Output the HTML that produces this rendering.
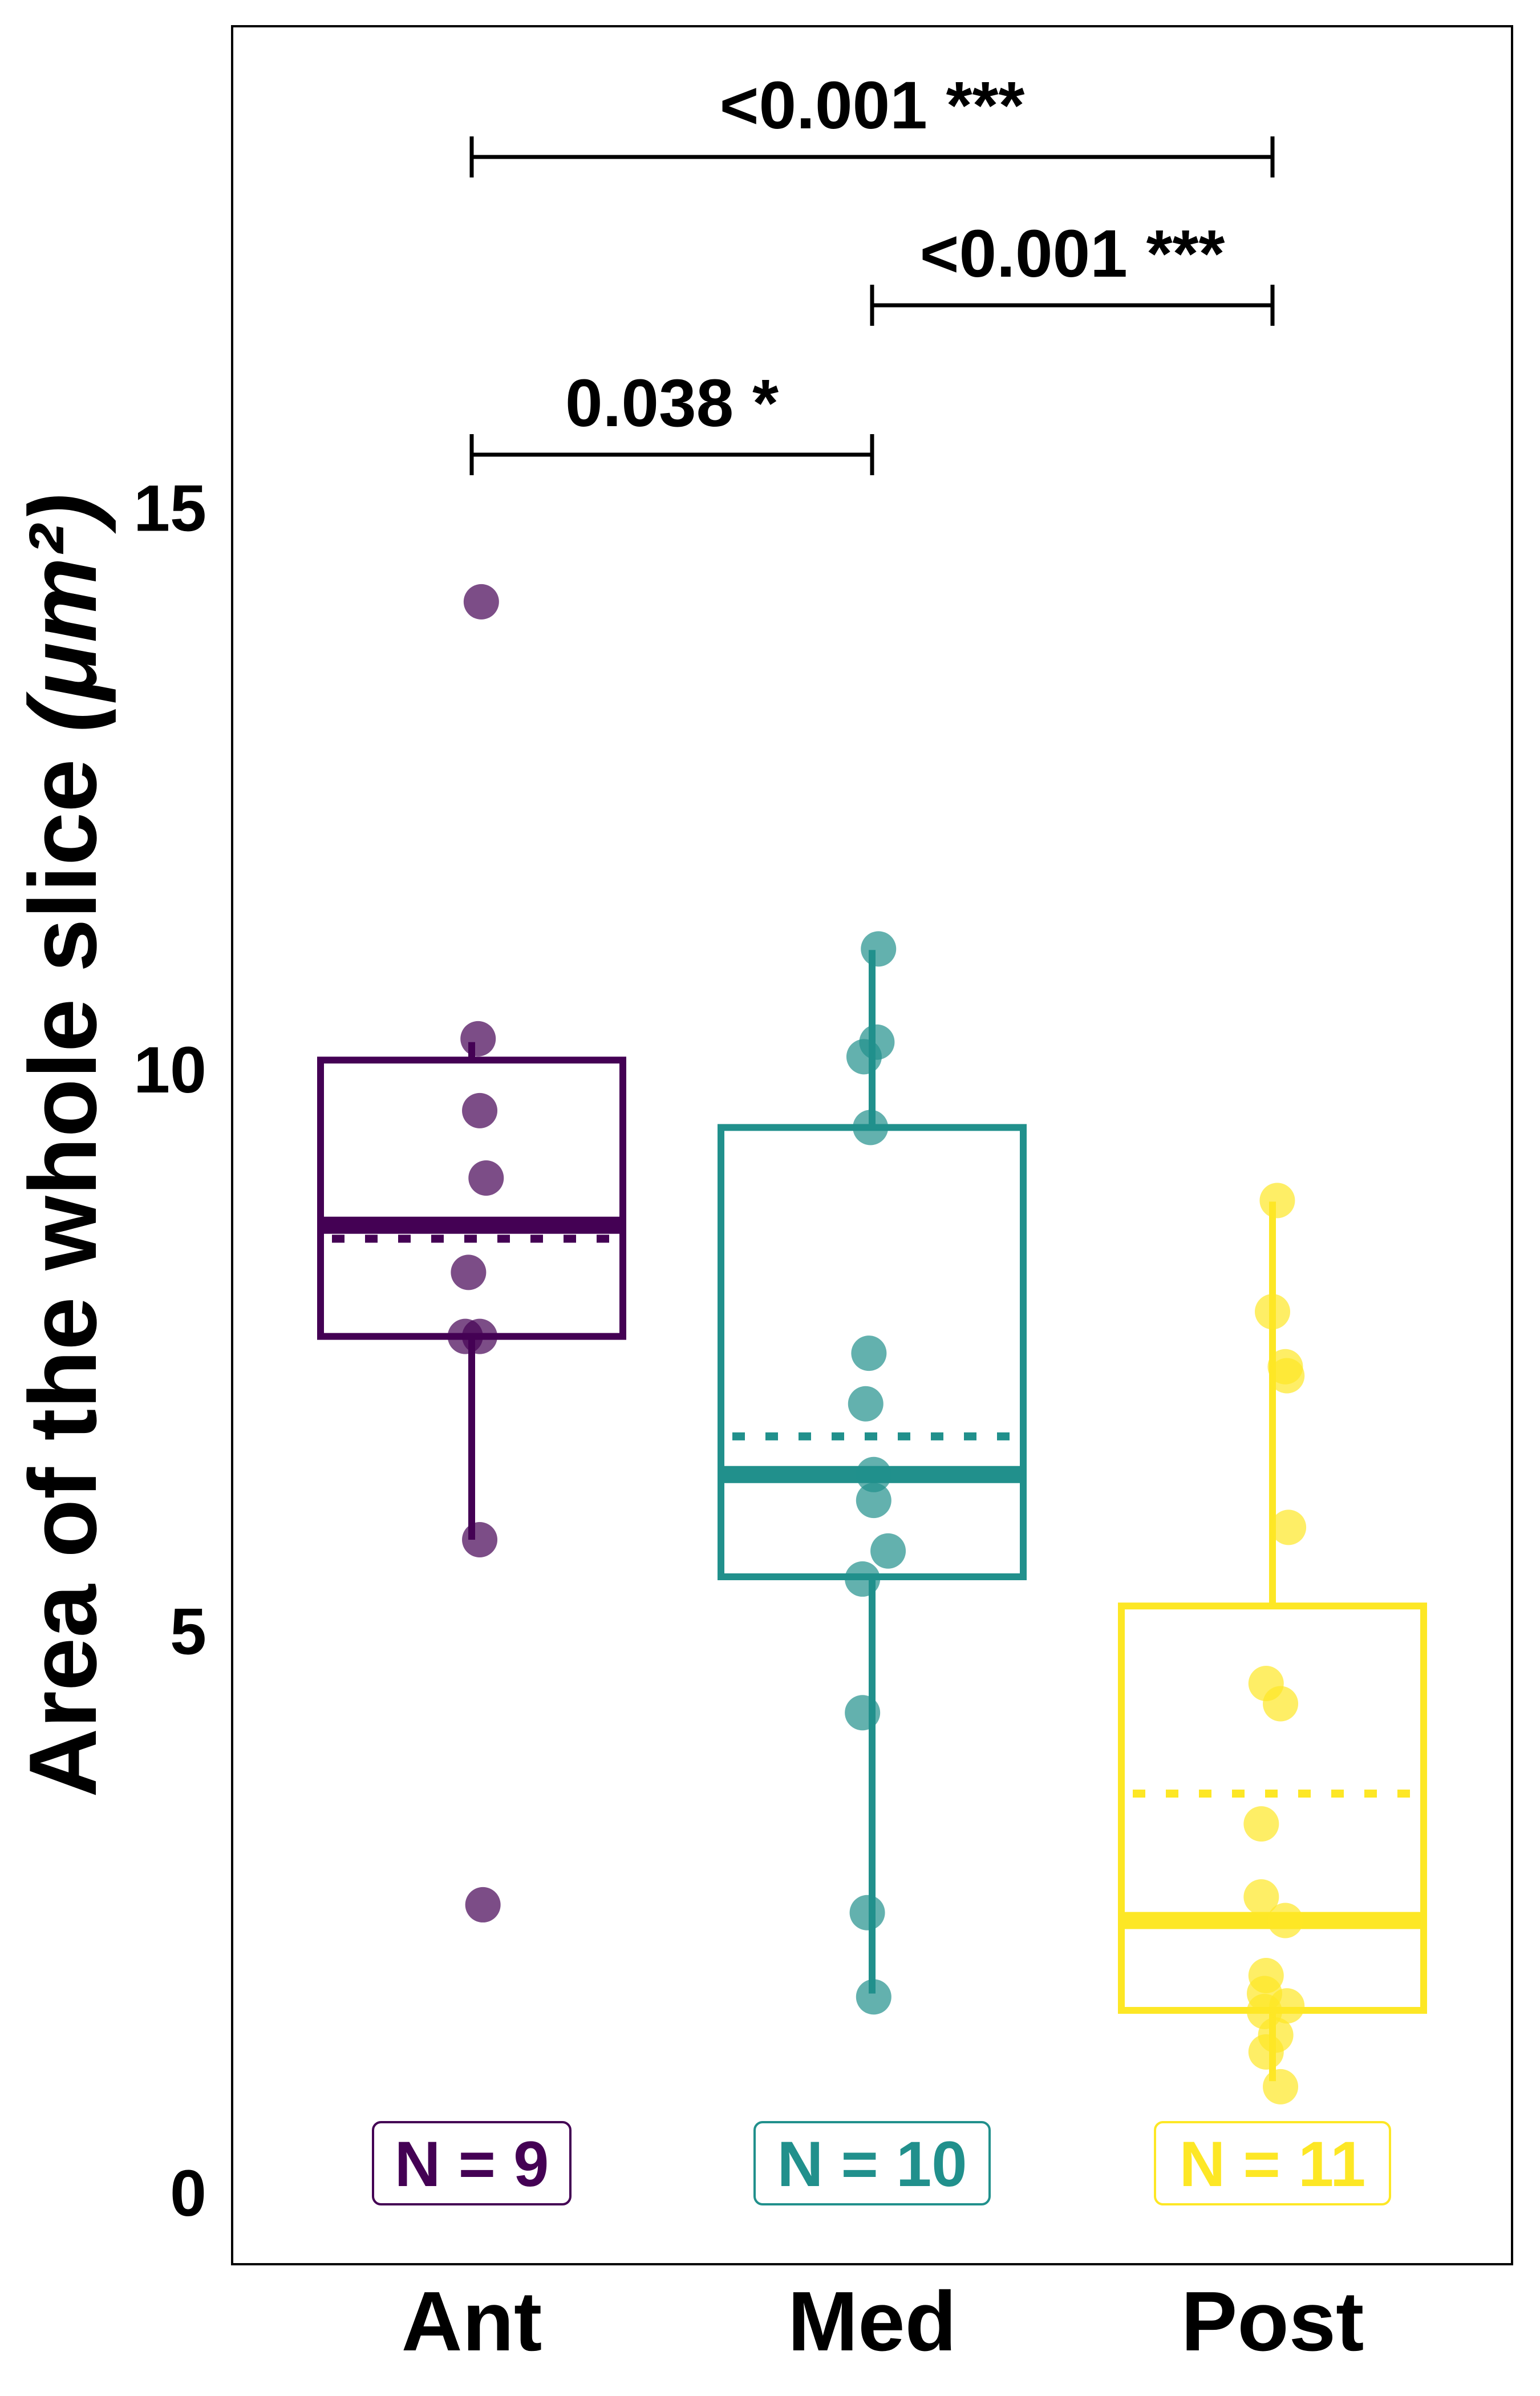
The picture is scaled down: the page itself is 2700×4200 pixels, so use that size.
<!DOCTYPE html>
<html><head><meta charset="utf-8"><style>
html,body{margin:0;padding:0;background:#fff;width:2700px;height:4200px;overflow:hidden}
svg{display:block}
text{font-family:"Liberation Sans",sans-serif;font-weight:bold}
</style></head><body>
<svg id="chart" width="2700" height="4200" viewBox="0 0 2700 4200" xmlns="http://www.w3.org/2000/svg">
<rect x="407" y="46" width="2244" height="3923" fill="none" stroke="#000" stroke-width="4"/>
<text transform="translate(168,2008) rotate(-90)" text-anchor="middle" font-size="168">Area of the whole slice <tspan font-style="italic">(μm²)</tspan></text>
<g id="g"></g>
</svg>
<script>
const categories = ["Ant","Med","Post"];
const colors = ["#440154","#21908C","#FDE725"];
const nLabels = ["N = 9","N = 10","N = 11"];
const q1 = [7.62, 5.48, 1.62];
const q3 = [10.08, 9.48, 5.22];
const medians = [8.61, 6.39, 2.42];
const means = [8.49, 6.73, 3.55];
const whiskLo = [5.81, 1.77, 0.99];
const whiskHi = [10.24, 11.06, 8.82];
const antVals = [14.16, 10.27, 9.63, 9.03, 8.19, 7.62, 7.62, 5.81, 2.56];
const antJit = [0.06, 0.04, 0.05, 0.09, -0.02, -0.04, 0.05, 0.05, 0.07];
const medVals = [11.07, 10.24, 10.11, 9.48, 7.47, 7.02, 6.39, 6.16, 5.71, 5.46, 4.27, 2.49, 1.74];
const medJit = [0.04, 0.03, -0.05, -0.01, -0.02, -0.04, 0.01, 0.01, 0.10, -0.06, -0.06, -0.03, 0.01];
const postVals = [8.83, 7.84, 7.35, 7.27, 5.92, 4.53, 4.35, 3.28, 2.63, 2.42, 1.93, 1.77, 1.61, 1.66, 1.40, 1.25, 0.94];
const postJit = [0.03, 0.0, 0.08, 0.09, 0.10, -0.04, 0.05, -0.07, -0.07, 0.08, -0.04, -0.05, -0.05, 0.09, 0.02, -0.04, 0.05];
const yTicks = [0, 5, 10, 15];
const comparisons = [[0,2,"<0.001 ***",18.12],[1,2,"<0.001 ***",16.80],[0,1,"0.038 *",15.47]];

const NS="http://www.w3.org/2000/svg";
const g=document.getElementById('g');
function y(v){return 3843 - v*196.9;}
function x(i){return 827 + i*702;}
const halfW=265;
function mk(tag,attrs,parent){const e=document.createElementNS(NS,tag);for(const k in attrs)e.setAttribute(k,attrs[k]);(parent||g).appendChild(e);return e;}

yTicks.forEach(t=>{
  const e=mk('text',{x:362,y:y(t)+41,'text-anchor':'end','font-size':115});
  e.textContent=t;
  
  
});
categories.forEach((c,i)=>{
  const e=mk('text',{x:x(i),y:4120,'text-anchor':'middle','font-size':148});
  e.textContent=c;
  
  
});
const allVals=[antVals,medVals,postVals], allJit=[antJit,medJit,postJit];
categories.forEach((c,i)=>{
  const col=colors[i], cx=x(i);
  const grp=mk('g',{});
  
  
  mk('line',{x1:cx,x2:cx,y1:y(q3[i]),y2:y(whiskHi[i]),stroke:col,'stroke-width':12},grp);
  mk('line',{x1:cx,x2:cx,y1:y(q1[i]),y2:y(whiskLo[i]),stroke:col,'stroke-width':12},grp);
  mk('rect',{x:cx-halfW,y:y(q3[i]),width:2*halfW,height:y(q1[i])-y(q3[i]),fill:'none',stroke:col,'stroke-width':12},grp);
  mk('line',{x1:cx-halfW,x2:cx+halfW,y1:y(medians[i]),y2:y(medians[i]),stroke:col,'stroke-width':30},grp);
  mk('line',{x1:cx-halfW+20,x2:cx+halfW,y1:y(means[i]),y2:y(means[i]),stroke:col,'stroke-width':14,'stroke-dasharray':'22 36'},grp);
  allVals[i].forEach((v,k)=>{
    const p=mk('circle',{cx:cx + allJit[i][k]*702*0.4,cy:y(v),r:31,fill:col,'fill-opacity':0.7},grp);
    
    
  });
  const nb=mk('rect',{x:cx-(i==0?173:206),y:3720,width:(i==0?346:412),height:144,rx:14,fill:'#fff',stroke:col,'stroke-width':4});
  
  
  const nt=mk('text',{x:cx,y:3832,'text-anchor':'middle','font-size':112,fill:col});
  nt.textContent=nLabels[i];
  
  
});
comparisons.forEach((cp,k)=>{
  const [a,b,lab,v]=cp, yy=y(v);
  const br=mk('path',{d:`M${x(a)},${yy-36}V${yy+36}M${x(a)},${yy}H${x(b)}M${x(b)},${yy-36}V${yy+36}`,fill:'none',stroke:'#000','stroke-width':7});
  
  
  const t=mk('text',{x:(x(a)+x(b))/2,y:yy-50,'text-anchor':'middle','font-size':118});
  t.textContent=lab;
  
  
});
</script>
</body></html>
